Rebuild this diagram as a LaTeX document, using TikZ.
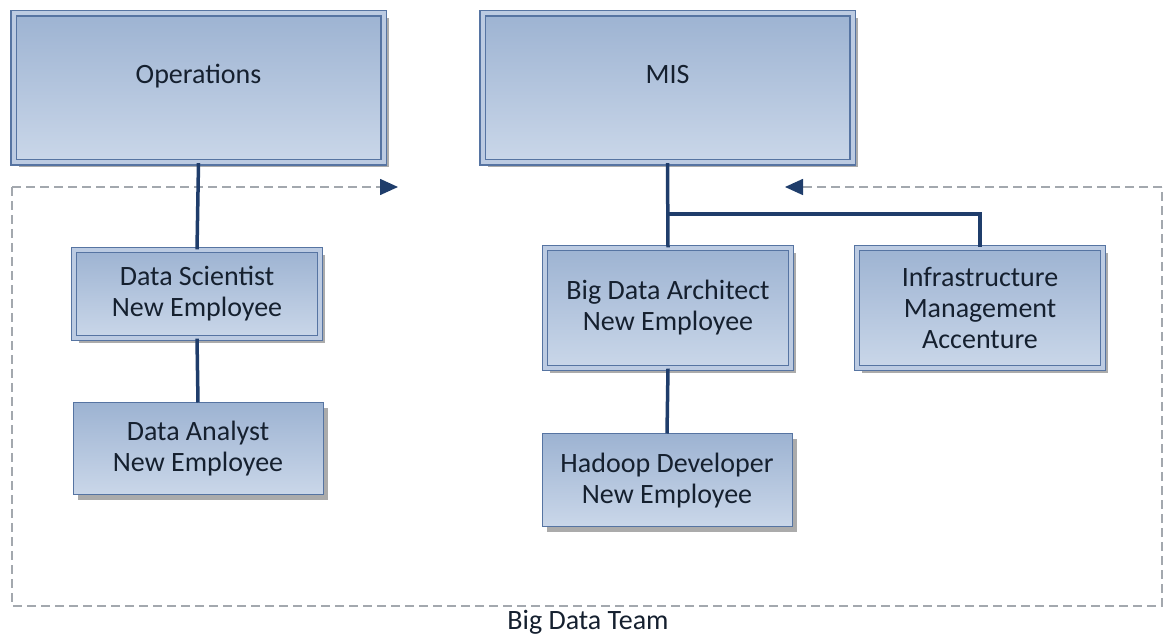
\documentclass[tikz,border=0pt]{standalone}
\usepackage{fontspec}
\setmainfont{Carlito}
\usetikzlibrary{arrows.meta,shadows}
\definecolor{boxtop}{HTML}{9DB3D2}
\definecolor{boxbot}{HTML}{CAD7E9}
\definecolor{boxline}{HTML}{5674A2}
\definecolor{boxgap}{HTML}{BCCBE2}
\definecolor{navy}{HTML}{1F3D6B}
\definecolor{dashgray}{HTML}{A3A8AE}
\definecolor{txt}{HTML}{15202F}
\tikzset{
  box/.style={draw=boxline, line width=1pt, top color=boxtop, bottom color=boxbot,
    text=txt, align=center, inner sep=0pt, font=\fontsize{28}{31}\selectfont,
    drop shadow={shadow xshift=5pt, shadow yshift=-5pt, fill=black!55, opacity=0.6}},
  dbox/.style={box, double=boxgap, double distance=4pt, line width=1.2pt},
  link/.style={draw=navy, line width=3.5pt},
  team/.style={draw=dashgray, line width=1.6pt, dash pattern=on 9pt off 5pt},
  teamarrow/.style={team, -{Triangle[length=18pt, width=16pt, fill=navy, color=navy]}}
}
\begin{document}
\begin{tikzpicture}[x=1pt,y=1pt]
\useasboundingbox (0,0) rectangle (1165,635);
% team container
\coordinate (tl) at (12,448);
\coordinate (bl) at (12,29);
\coordinate (br) at (1162,29);
\coordinate (tr) at (1162,448);
\coordinate (a1) at (398,448);
\coordinate (a2) at (785,448);
\draw[team] (tl) -- (bl) -- (br) -- (tr);
\draw[teamarrow] (tl) -- (a1);
\draw[teamarrow] (tr) -- (a2);
\node[text=txt, font=\fontsize{28}{31}\selectfont] (lab) at (588,13) {Big Data Team};
% boxes
\node[dbox, minimum width=370pt, minimum height=149pt] (ops) at (198.5,547) {\raisebox{28pt}{Operations}};
\node[dbox, minimum width=370pt, minimum height=149pt] (mis) at (667.5,547) {\raisebox{28pt}{MIS}};
\node[dbox, minimum width=246pt, minimum height=88pt] (ds) at (197,341) {Data Scientist\\New Employee};
\node[box, minimum width=250pt, minimum height=92pt] (da) at (198,186) {Data Analyst\\New Employee};
\node[dbox, minimum width=246pt, minimum height=120pt] (bda) at (668,327) {Big Data Architect\\New Employee};
\node[box, minimum width=250pt, minimum height=93pt] (hd) at (667,154.5) {Hadoop Developer\\New Employee};
\node[dbox, minimum width=246pt, minimum height=120pt] (im) at (980,327) {Infrastructure\\Management\\Accenture};
% connectors
\coordinate (br1) at (mis.south |- 0,421);
\draw[link] (ops.south) -- (ds.north);
\draw[link] (ds.south) -- (da.north);
\draw[link] (mis.south) -- (bda.north);
\draw[link] (br1) -| (im.north);
\draw[link] (bda.south) -- (hd.north);
\end{tikzpicture}
\end{document}
